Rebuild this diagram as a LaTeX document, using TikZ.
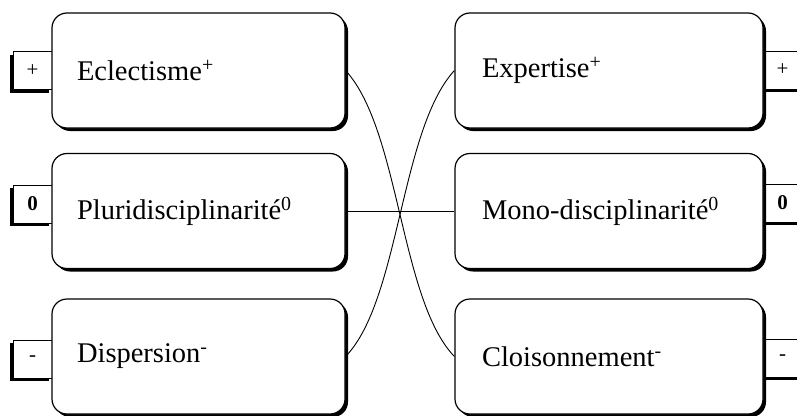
\documentclass[tikz,border=0pt]{standalone}
\usepackage{fontspec}
\setmainfont{Liberation Serif}
\usetikzlibrary{shadows}
\begin{document}
\begin{tikzpicture}[x=1pt,y=-1pt,line join=round,
	pole/.style={draw,line width=1.2pt,fill=white,rounded corners=15pt,minimum height=115pt,align=left,font=\fontsize{28.5}{30}\selectfont,general shadow={fill=black,shadow xshift=3pt,shadow yshift=-3pt}},
	lpole/.style={pole,text width=243pt,inner xsep=25pt},
	rpole/.style={pole,text width=254pt,inner xsep=27pt},
	tag/.style={draw,line width=1pt,fill=white,minimum width=39pt,minimum height=38pt,inner sep=0pt,font=\fontsize{21}{21}\selectfont},
	ltag/.style={tag,general shadow={fill=black,shadow xshift=-3pt,shadow yshift=-3pt}},
	rtag/.style={tag,general shadow={fill=black,shadow xshift=3pt,shadow yshift=-3pt}}]
	\useasboundingbox (0,0) rectangle (797,415);
	% tags behind the boxes
	\node[ltag] (tplus) at (32.5,70.5) {+};
	\node[ltag] (tzero) at (32.5,204) {\bfseries 0};
	\node[ltag] (tminus) at (32.5,359) {-};
	\node[rtag] (uplus) at (782.5,70) {+};
	\node[rtag] (uzero) at (782.5,203) {\bfseries 0};
	\node[rtag] (uminus) at (782.5,358) {-};
	% left column
	\node[lpole] (ecl) at (198.5,70.5) {Eclectisme\textsuperscript{+}};
	\node[lpole] (plu) at (198.5,211) {Pluridisciplinarité\textsuperscript{0}};
	\node[lpole] (dis) at (198.5,356.5) {Dispersion\textsuperscript{-}};
	% right column
	\node[rpole] (exp) at (609,70.5) {Expertise\textsuperscript{+}};
	\node[rpole] (mon) at (609,211) {Mono-disciplinarité\textsuperscript{0}};
	\node[rpole] (clo) at (609,356.5) {Cloisonnement\textsuperscript{-}};
	% links
	\draw[line width=0.9pt] (ecl.east) .. controls (400,130) and (400,300) .. (clo.west);
	\draw[line width=0.9pt] (dis.east) .. controls (400,300) and (400,130) .. (exp.west);
	\draw[line width=0.9pt] (plu.east) -- (mon.west);
\end{tikzpicture}
\end{document}
